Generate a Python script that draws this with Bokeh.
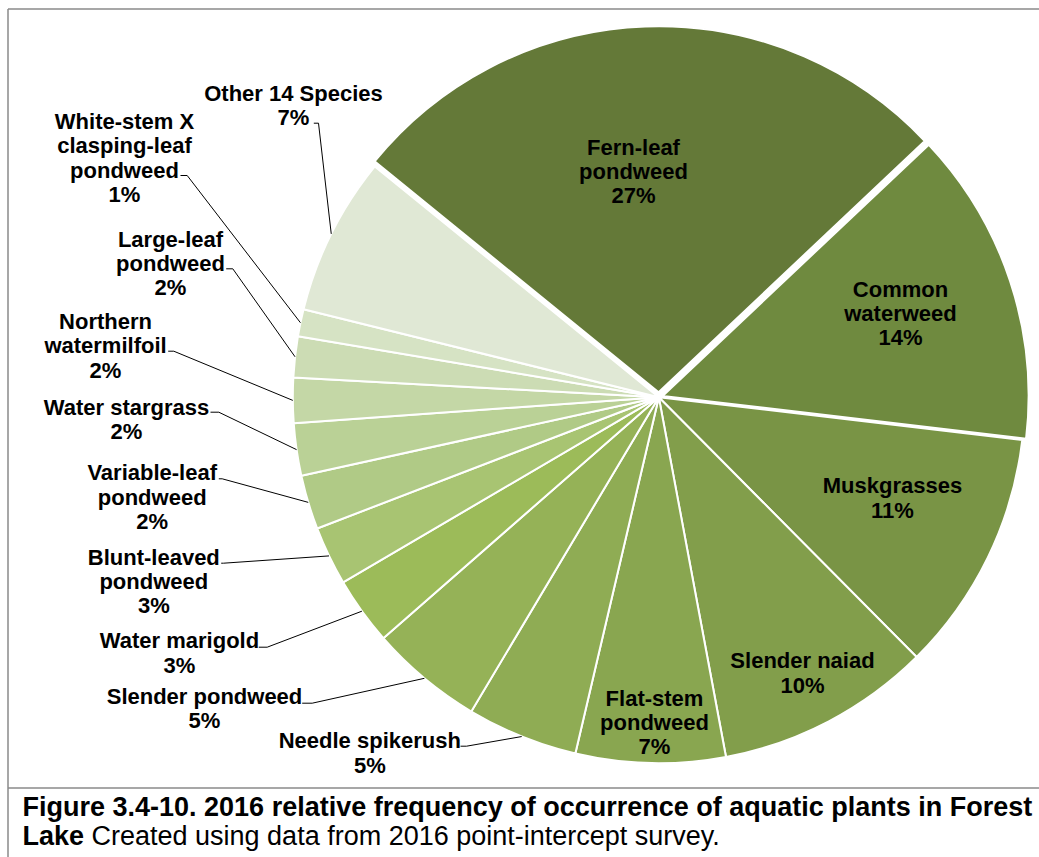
import math
from bokeh.plotting import figure
from bokeh.models import Range1d
from bokeh.core.properties import value
from bokeh.embed import file_html
from bokeh.resources import INLINE

# ---------------- data ----------------
species = [
    "Fern-leaf\npondweed", "Common\nwaterweed", "Muskgrasses", "Slender naiad",
    "Flat-stem\npondweed", "Needle spikerush", "Slender pondweed", "Water marigold",
    "Blunt-leaved\npondweed", "Variable-leaf\npondweed", "Water stargrass",
    "Northern\nwatermilfoil", "Large-leaf\npondweed",
    "White-stem X\nclasping-leaf\npondweed", "Other 14 Species",
]
freq = [27.1, 13.9, 10.7, 9.5, 6.6, 4.9, 5.0, 3.0, 2.6, 2.4, 2.3, 2.0, 1.8, 1.2, 7.0]
colors = ["#647938", "#6F8A3F", "#799445", "#829E4B", "#89A650", "#8FAC54",
          "#95B257", "#9CBB59", "#A8C472", "#B0CA86", "#BAD196", "#C4D7A6",
          "#CCDCB4", "#D6E3C4", "#E0E8D5"]
caption1 = "Figure 3.4-10.  2016 relative frequency of occurrence of aquatic plants in Forest"
caption2_bold = "Lake"
caption2_rest = "Created using data from 2016 point-intercept survey."

# ---------------- layout ----------------
W, H = 1039, 857
def fx(px): return px
def fy(py): return H - py

CX, CY = 658.3, 396.7       # pie centre (page px)
R = 366
START = -50.9               # clock angle of first slice (deg)
explode = {0: 5, 1: 4}

inside_pos = {0: (633, 171), 1: (900, 313), 2: (892, 497.5), 3: (802, 672.5), 4: (654, 722)}
outside_pos = {
    14: ((293, 104.7), (313.3, 122.7), (318, 122.7)),
    13: ((124, 157.5), (180, 175), (186.7, 175)),
    12: ((170, 262.8), (225.7, 268.3), (232.3, 268.3)),
    11: ((105, 345.3), (167.7, 350.7), (173.3, 350.7)),
    10: ((126, 418.8), (210, 411.7), (218.3, 411.7)),
    9: ((151.7, 496.7), (218.3, 478.3), (221.7, 478.3)),
    8: ((153.3, 581), (220.7, 562.7), (223, 562.7)),
    7: ((179, 652.5), (258.3, 646.7), (266.7, 646.7)),
    6: ((204, 708), (301.7, 702.7), (311.7, 702.7)),
    5: ((369.3, 752.5), (460, 745.7), (466, 745.7)),
}
LH = 0.97

p = figure(width=W, height=H, output_backend="svg", toolbar_location=None,
           x_range=Range1d(0, W), y_range=Range1d(0, H), min_border=0)
p.axis.visible = False
p.grid.visible = False
p.outline_line_color = None
p.background_fill_color = "white"

total = sum(freq)
angles = [v / total * 360 for v in freq]
starts, ends = [], []
a = START
for ang in angles:
    starts.append(a)
    ends.append(a + ang)
    a += ang

wx, wy, sa, ea = [], [], [], []
for i in range(len(freq)):
    mid = math.radians((starts[i] + ends[i]) / 2)
    d = explode.get(i, 0)
    wx.append(fx(CX + d * math.sin(mid)))
    wy.append(fy(CY - d * math.cos(mid)))
    sa.append(math.radians(90 - ends[i]))
    ea.append(math.radians(90 - starts[i]))

p.wedge(x=wx, y=wy, radius=R, start_angle=sa, end_angle=ea,
        fill_color=colors, line_color="white", line_width=2)

pct = [f"{int(v + 0.5 + 1e-9)}%" for v in freq]
font = value("Liberation Sans")

for i, (lx, ly) in inside_pos.items():
    p.text(x=[fx(lx)], y=[fy(ly)], text=[species[i] + "\n" + pct[i]],
           text_font=font, text_font_style="bold", text_font_size="22px",
           text_align="center", text_baseline="middle", text_line_height=LH,
           text_color="black")

lxs, lys = [], []
for i, (lab, e1, e2) in outside_pos.items():
    txt = species[i] + "\n" + pct[i]
    p.text(x=[fx(lab[0])], y=[fy(lab[1])], text=[txt],
           text_font=font, text_font_style="bold", text_font_size="22px",
           text_align="center", text_baseline="middle", text_line_height=LH,
           text_color="black")
    mid = math.radians((starts[i] + ends[i]) / 2)
    px_ = CX + R * math.sin(mid)
    py_ = CY - R * math.cos(mid)
    lxs.append([fx(e1[0]), fx(e2[0]), fx(px_)])
    lys.append([fy(e1[1]), fy(e2[1]), fy(py_)])
p.multi_line(xs=lxs, ys=lys, line_color="black", line_width=1)

# frame lines
p.segment(x0=[fx(7.5), fx(7.5), fx(7.5)], y0=[fy(8.5), fy(8.5), fy(787.5)],
          x1=[W, fx(7.5), W], y1=[fy(8.5), 0, fy(787.5)],
          line_color="#8a8a8a", line_width=1.5)

# caption
p.text(x=[fx(22)], y=[fy(806)], text=[caption1], text_font=font,
       text_font_style="bold", text_font_size="27px", text_align="left",
       text_baseline="middle", text_color="black")
p.text(x=[fx(22)], y=[fy(835)], text=[caption2_bold], text_font=font,
       text_font_style="bold", text_font_size="27px", text_align="left",
       text_baseline="middle", text_color="black")
p.text(x=[fx(91)], y=[fy(835)], text=[caption2_rest], text_font=font,
       text_font_size="27px", text_align="left",
       text_baseline="middle", text_color="black")

open("out.html", "w").write(file_html(p, INLINE))
